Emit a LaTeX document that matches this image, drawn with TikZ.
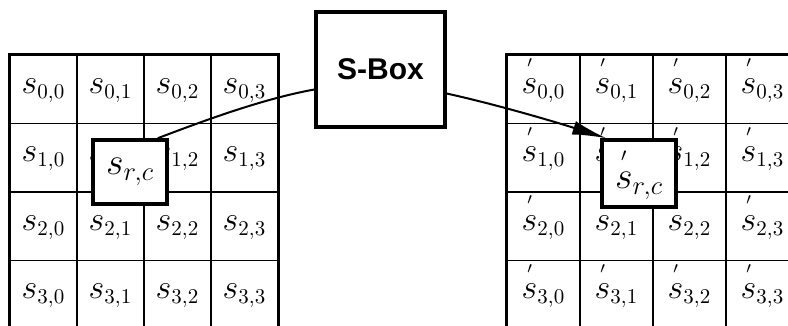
\documentclass[tikz,border=0pt]{standalone}
\usepackage{fix-cm}
\usepackage{fontspec}
\usepackage{amsmath}
\usetikzlibrary{arrows.meta}
\newfontfamily\sboxfont{Liberation Sans}
\DeclareMathSizes{17}{17}{10.5}{8}
\newcommand{\sprime}{\overset{\raisebox{2pt}{$\scriptscriptstyle\prime$}}{s}}

\begin{document}
\begin{tikzpicture}[
        x=0.5pt, y=-0.5pt,
        celda/.style={
            rectangle,
            draw=black,
            line width=0.8pt,
            minimum width=33.5pt,
            minimum height=34.25pt,
            inner sep=0pt,
            text height=10pt,
            text depth=6pt,
            font=\fontsize{17}{19}\selectfont
        },
        celdab/.style={celda, minimum width=36.5pt},
        caja/.style={
            rectangle,
            draw=black,
            fill=white,
            line width=1.8pt,
            inner sep=0pt,
            font=\fontsize{19}{21}\selectfont
        },
        borde/.style={line width=1.5pt},
        flecha/.style={line width=1pt}
    ]
    \clip (0,0) rectangle (788,326);

    % Matriz de entrada
    \foreach \r in {0,...,3}
        \foreach \c in {0,...,3}
            \node[celda] (l\r\c) at ({43.5+67*\c},{89.25+68.5*\r}) {$s_{\r,\c}$};
    \draw[borde] (l00.north west) rectangle (l33.south east);

    % Matriz de salida
    \foreach \r in {0,...,3}
        \foreach \c in {0,...,3}
            \node[celdab] (r\r\c) at ({543.5+73*\c},{89.25+68.5*\r}) {$\sprime_{\r,\c}$};
    \draw[borde] (r00.north west) rectangle (r33.south east);

    % Byte elegido y su sustituto
    \node[caja, minimum width=37pt, minimum height=32pt] (lbox) at (130,172)
        {\raisebox{-3pt}{$s_{r,c}$}};
    \node[caja, minimum width=37pt, minimum height=33.5pt] (rbox) at (639,173.5)
        {\raisebox{-2pt}{$\sprime_{r,c}$}};

    % Tabla S-Box
    \node[caja, line width=1.6pt, minimum width=64.5pt, minimum height=57.5pt,
          font=\sboxfont\bfseries\fontsize{15}{17}\selectfont] (sbox) at (380.5,69.5) {S-Box};

    \draw[flecha] ([xshift=-5.5pt]lbox.north east)
        .. controls +(50,-19) and +(-50,9) .. ([yshift=-10pt]sbox.west);
    \draw[flecha, -{Latex[length=17pt,width=7pt]}] ([yshift=-12pt]sbox.east)
        .. controls +(50,11) and +(-50,-16) .. ([xshift=3pt]rbox.north west);

\end{tikzpicture}
\end{document}
